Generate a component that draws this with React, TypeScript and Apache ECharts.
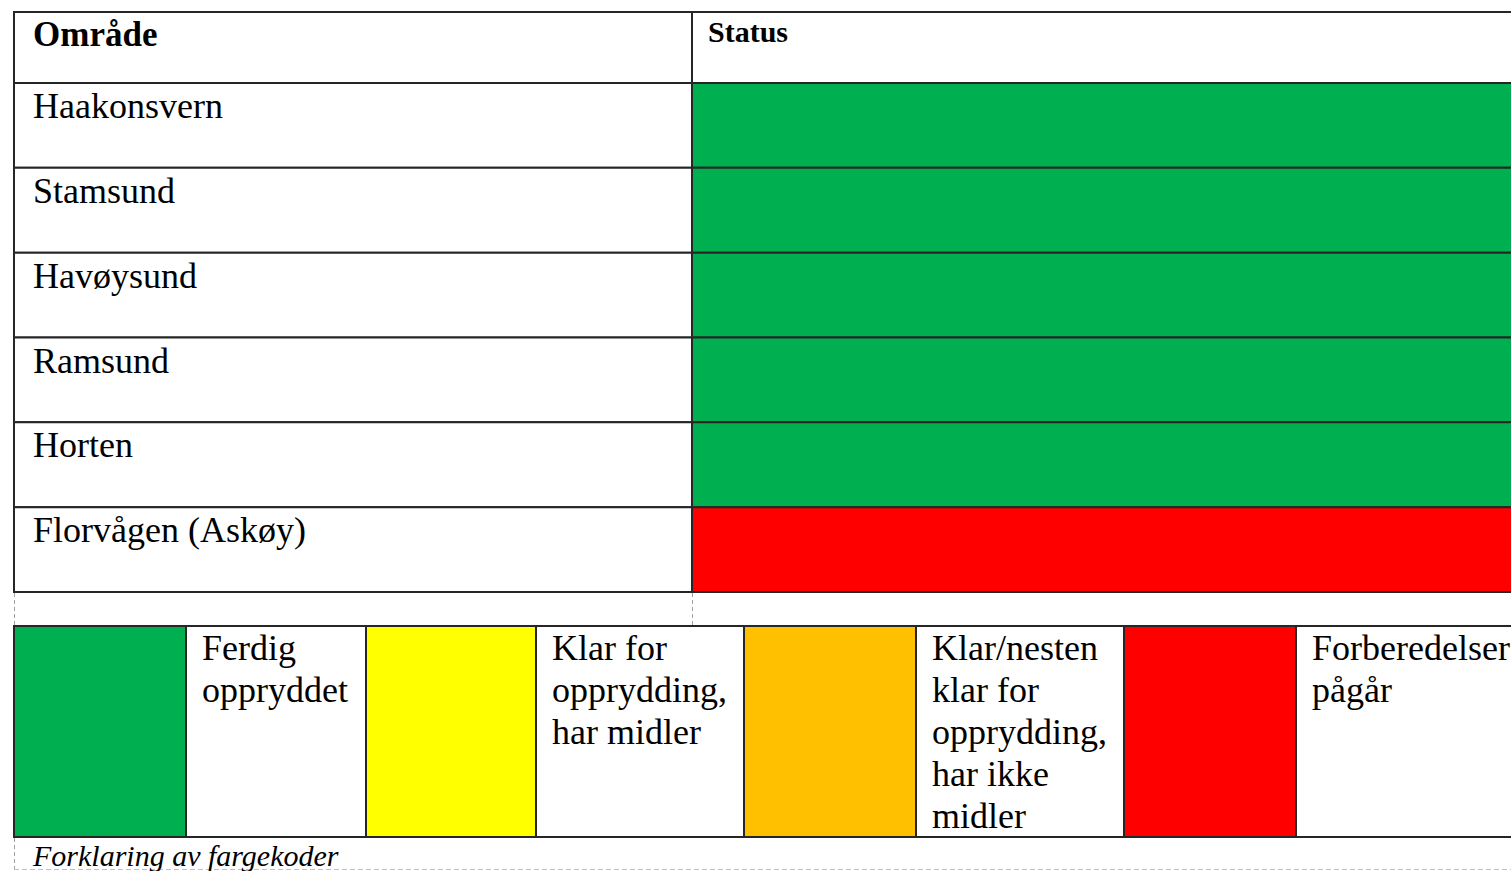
import React, { useEffect, useRef } from "react";
import * as echarts from "echarts";

// ---- data ----
const headers = ["Område", "Status"];
const areas = ["Haakonsvern", "Stamsund", "Havøysund", "Ramsund", "Horten", "Florvågen (Askøy)"];
// index into legendColors / legendLabels
const areaStatus = [0, 0, 0, 0, 0, 3];
const legendColors = ["#00B050", "#FFFF00", "#FFC000", "#FF0000"];
const legendLabels = [
  "Ferdig\noppryddet",
  "Klar for\nopprydding,\nhar midler",
  "Klar/nesten\nklar for\nopprydding,\nhar ikke\nmidler",
  "Forberedelser\npågår",
];
const caption = "Forklaring av fargekoder";

// ---- layout (pixels relative to table left edge) ----
const AXIS_MAX = 1497;
const COL_SPLIT = 678;
const TABLE_END = 1540;
// legend cell boundaries: [swatchStart, textStart, textEnd] per item
const legendCells = [
  [0, 172, 352],
  [352, 522, 730],
  [730, 902, 1110],
  [1110, 1282, 1540],
];

const FONT = '"Liberation Serif", "Times New Roman", serif';
const STROKE = "#262626";
const LW = 2;

export default function App() {
  const ref = useRef<HTMLDivElement>(null);

  useEffect(() => {
    if (!ref.current) return;
    const chart = echarts.init(ref.current, undefined, { renderer: "svg" });

    const xAxisBase = { type: "value", min: 0, max: AXIS_MAX, show: false };

    const option: any = {
      animation: false,
      backgroundColor: "#ffffff",
      grid: [
        { left: 14, top: 12, width: AXIS_MAX, height: 71 },
        { left: 14, top: 83, width: AXIS_MAX, height: 509 },
        { left: 14, top: 626, width: AXIS_MAX, height: 211 },
      ],
      xAxis: [
        { ...xAxisBase, gridIndex: 0 },
        { ...xAxisBase, gridIndex: 1 },
        { ...xAxisBase, gridIndex: 2 },
      ],
      yAxis: [
        { type: "category", data: ["header"], gridIndex: 0, show: false, inverse: true },
        { type: "category", data: areas, gridIndex: 1, show: false, inverse: true },
        { type: "category", data: ["legend"], gridIndex: 2, show: false, inverse: true },
      ],
      series: [
        {
          type: "custom",
          xAxisIndex: 0,
          yAxisIndex: 0,
          data: [[0, 0]],
          renderItem: (params: any, api: any) => {
            const c = api.coord([0, 0]);
            const h = api.size([0, 1])[1];
            const top = c[1] - h / 2;
            const x0 = c[0];
            const x1 = api.coord([COL_SPLIT, 0])[0];
            const x2 = api.coord([TABLE_END, 0])[0];
            return {
              type: "group",
              children: [
                { type: "rect", shape: { x: x0, y: top, width: x1 - x0, height: h }, style: { fill: "#fff", stroke: STROKE, lineWidth: LW } },
                { type: "rect", shape: { x: x1, y: top, width: x2 - x1, height: h }, style: { fill: "#fff", stroke: STROKE, lineWidth: LW } },
                {
                  type: "text", x: x0 + 19, y: top + 1,
                  style: { text: headers[0], fontFamily: FONT, fontSize: 35, fontWeight: "bold", fill: "#000", verticalAlign: "top", lineHeight: 42 },
                },
                {
                  type: "text", x: x1 + 16, y: top - 2,
                  style: { text: headers[1], fontFamily: FONT, fontSize: 30, fontWeight: "bold", fill: "#000", verticalAlign: "top", lineHeight: 42 },
                },
              ],
            };
          },
        },
        {
          type: "custom",
          xAxisIndex: 1,
          yAxisIndex: 1,
          data: areas.map((_, i) => [0, i]),
          renderItem: (params: any, api: any) => {
            const i = params.dataIndex;
            const c = api.coord([0, i]);
            const h = api.size([0, 1])[1];
            const top = c[1] - h / 2;
            const x0 = c[0];
            const x1 = api.coord([COL_SPLIT, i])[0];
            const x2 = api.coord([TABLE_END, i])[0];
            return {
              type: "group",
              children: [
                { type: "rect", shape: { x: x0, y: top, width: x1 - x0, height: h }, style: { fill: "#fff", stroke: STROKE, lineWidth: LW } },
                { type: "rect", shape: { x: x1, y: top, width: x2 - x1, height: h }, style: { fill: legendColors[areaStatus[i]], stroke: STROKE, lineWidth: LW } },
                {
                  type: "text", x: x0 + 19, y: top + 2,
                  style: { text: areas[i], fontFamily: FONT, fontSize: 36, fill: "#000", verticalAlign: "top", lineHeight: 42 },
                },
              ],
            };
          },
        },
        {
          type: "custom",
          xAxisIndex: 2,
          yAxisIndex: 2,
          data: legendLabels.map((_, i) => [i, 0]),
          renderItem: (params: any, api: any) => {
            const i = params.dataIndex;
            const cell = legendCells[i];
            const c = api.coord([cell[0], 0]);
            const h = api.size([0, 1])[1];
            const top = c[1] - h / 2;
            const xa = c[0];
            const xb = api.coord([cell[1], 0])[0];
            const xc = api.coord([cell[2], 0])[0];
            return {
              type: "group",
              children: [
                { type: "rect", shape: { x: xa, y: top, width: xb - xa, height: h }, style: { fill: legendColors[i], stroke: STROKE, lineWidth: LW } },
                { type: "rect", shape: { x: xb, y: top, width: xc - xb, height: h }, style: { fill: "#fff", stroke: STROKE, lineWidth: LW } },
                {
                  type: "text", x: xb + 16, y: top + 1,
                  style: { text: legendLabels[i], fontFamily: FONT, fontSize: 36, fill: "#000", verticalAlign: "top", lineHeight: 42 },
                },
              ],
            };
          },
        },
      ],
      graphic: [
        { type: "line", shape: { x1: 14.5, y1: 593, x2: 14.5, y2: 625 }, style: { stroke: "#a0a0a0", lineWidth: 1, lineDash: [4, 3] } },
        { type: "line", shape: { x1: 692.5, y1: 593, x2: 692.5, y2: 625 }, style: { stroke: "#a0a0a0", lineWidth: 1, lineDash: [4, 3] } },
        { type: "line", shape: { x1: 14.5, y1: 838, x2: 14.5, y2: 871 }, style: { stroke: "#a0a0a0", lineWidth: 1, lineDash: [4, 3] } },
        { type: "line", shape: { x1: 14, y1: 869.5, x2: 1511, y2: 869.5 }, style: { stroke: "#c0c0c0", lineWidth: 1, lineDash: [5, 3] } },
        {
          type: "text", x: 33, y: 870,
          style: { text: caption, fontFamily: FONT, fontSize: 30, fontStyle: "italic", fill: "#000", verticalAlign: "bottom" },
        },
      ],
    };

    chart.setOption(option);
    return () => chart.dispose();
  }, []);

  return (
    <div
      ref={ref}
      style={{ position: "absolute", left: 0, top: 0, width: 1511, height: 871 }}
    />
  );
}
